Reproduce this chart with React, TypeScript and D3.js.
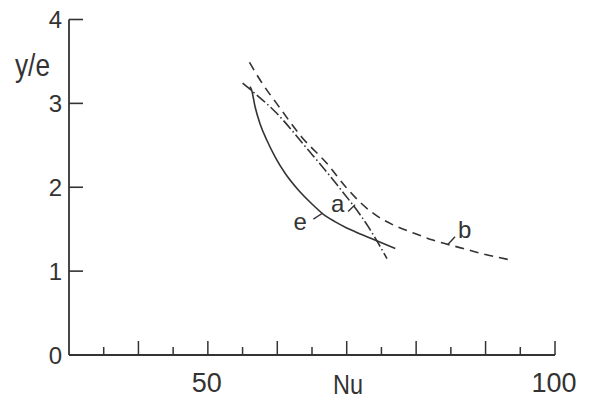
import React from 'react'
import * as d3 from 'd3'

// curve e (solid)
const E_NU = [56.07, 56.3, 56.8, 57.5, 58.5, 59.7, 61.1, 63.0, 65.0, 66.6, 68.3, 70.0, 71.2, 73.8, 77.0]
const E_Y = [3.2, 3.16, 2.96, 2.76, 2.56, 2.36, 2.17, 1.97, 1.8, 1.68, 1.59, 1.515, 1.47, 1.38, 1.27]

// curve a (dash-dot)
const A_NU = [55.0, 56.9, 59.7, 64.5, 68.7, 73.1, 75.8]
const A_Y = [3.24, 3.11, 2.9, 2.44, 2.02, 1.53, 1.15]

// curve b (dashed)
const B_NU = [56.0, 57.9, 59.9, 63.5, 67.3, 69.8, 72.2, 74.5, 76.7, 79.6, 82.4, 86.8, 89.2, 93.2]
const B_Y = [3.49, 3.23, 3.0, 2.6, 2.27, 2.01, 1.8, 1.65, 1.55, 1.455, 1.37, 1.27, 1.215, 1.14]

const X_MAJOR = [40, 50, 60, 70, 80, 90, 100]
const X_MINOR = [35, 45, 55, 65, 75, 85, 95]
const X_LABELS = [50, 100]
const Y_TICKS = [0, 1, 2, 3, 4]

// curve labels: text position and leader from curve
const CURVE_LABELS = [
  { text: 'e', nu: 63.3, y: 1.59, from: [65.2, 1.62], to: [66.5, 1.69] },
  { text: 'a', nu: 68.7, y: 1.8, from: [70.2, 1.71], to: [71.2, 1.79] },
  { text: 'b', nu: 87.0, y: 1.49, from: [84.6, 1.32], to: [85.6, 1.41] },
]

const INK = '#333'

export default function App() {
  const width = 594
  const height = 401
  const x = d3.scaleLinear().domain([30, 100]).range([69, 555])
  const y = d3.scaleLinear().domain([0, 4]).range([355, 19.5])

  const line = d3
    .line<[number, number]>()
    .x((d) => x(d[0]))
    .y((d) => y(d[1]))
    .curve(d3.curveMonotoneX)

  const zip = (a: number[], b: number[]) => a.map((v, i) => [v, b[i]] as [number, number])

  const font = '"Liberation Sans", Arial, sans-serif'

  return (
    <svg
      width={width}
      height={height}
      style={{ position: 'absolute', left: 0, top: 0, background: '#fff' }}
    >
      {/* axes */}
      <line x1={x(30)} x2={x(30)} y1={y(0)} y2={y(4)} stroke={INK} strokeWidth={1.8} />
      <line x1={x(30)} x2={x(100)} y1={y(0)} y2={y(0)} stroke={INK} strokeWidth={1.8} />
      {Y_TICKS.map((t) => (
        <g key={'y' + t}>
          {t > 0 && (
            <line x1={x(30)} x2={x(30) + 14} y1={y(t)} y2={y(t)} stroke={INK} strokeWidth={1.6} />
          )}
          <text
            x={x(30) - 7}
            y={y(t)}
            dy="0.36em"
            textAnchor="end"
            fontFamily={font}
            fontSize={24}
            fill={INK}
          >
            {t}
          </text>
        </g>
      ))}
      {X_MAJOR.map((t) => (
        <line key={'M' + t} x1={x(t)} x2={x(t)} y1={y(0)} y2={y(0) - 14} stroke={INK} strokeWidth={1.5} />
      ))}
      {X_MINOR.map((t) => (
        <line key={'m' + t} x1={x(t)} x2={x(t)} y1={y(0)} y2={y(0) - 8} stroke={INK} strokeWidth={1.5} />
      ))}
      {X_LABELS.map((t) => (
        <text
          key={'xl' + t}
          x={x(t) - 1}
          y={y(0) + 37}
          textAnchor="middle"
          fontFamily={font}
          fontSize={27}
          fill={INK}
        >
          {t}
        </text>
      ))}
      <text
        x={15}
        y={76}
        fontFamily={font}
        fontSize={32}
        textLength={35}
        lengthAdjust="spacingAndGlyphs"
        fill={INK}
      >
        y/e
      </text>
      <text
        x={333}
        y={394}
        fontFamily={font}
        fontSize={28}
        textLength={30}
        lengthAdjust="spacingAndGlyphs"
        fill={INK}
      >
        Nu
      </text>

      {/* curves */}
      <path d={line(zip(E_NU, E_Y)) ?? ''} fill="none" stroke={INK} strokeWidth={1.6} />
      <path
        d={line(zip(A_NU, A_Y)) ?? ''}
        fill="none"
        stroke={INK}
        strokeWidth={1.6}
        strokeDasharray="11,3,1.5,3"
      />
      <path
        d={line(zip(B_NU, B_Y)) ?? ''}
        fill="none"
        stroke={INK}
        strokeWidth={1.6}
        strokeDasharray="9,6"
      />

      {CURVE_LABELS.map((l) => (
        <g key={l.text}>
          <line
            x1={x(l.from[0])}
            y1={y(l.from[1])}
            x2={x(l.to[0])}
            y2={y(l.to[1])}
            stroke={INK}
            strokeWidth={1.4}
          />
          <text
            x={x(l.nu)}
            y={y(l.y)}
            dy="0.35em"
            textAnchor="middle"
            fontFamily={font}
            fontSize={24}
            fill={INK}
          >
            {l.text}
          </text>
        </g>
      ))}
    </svg>
  )
}
